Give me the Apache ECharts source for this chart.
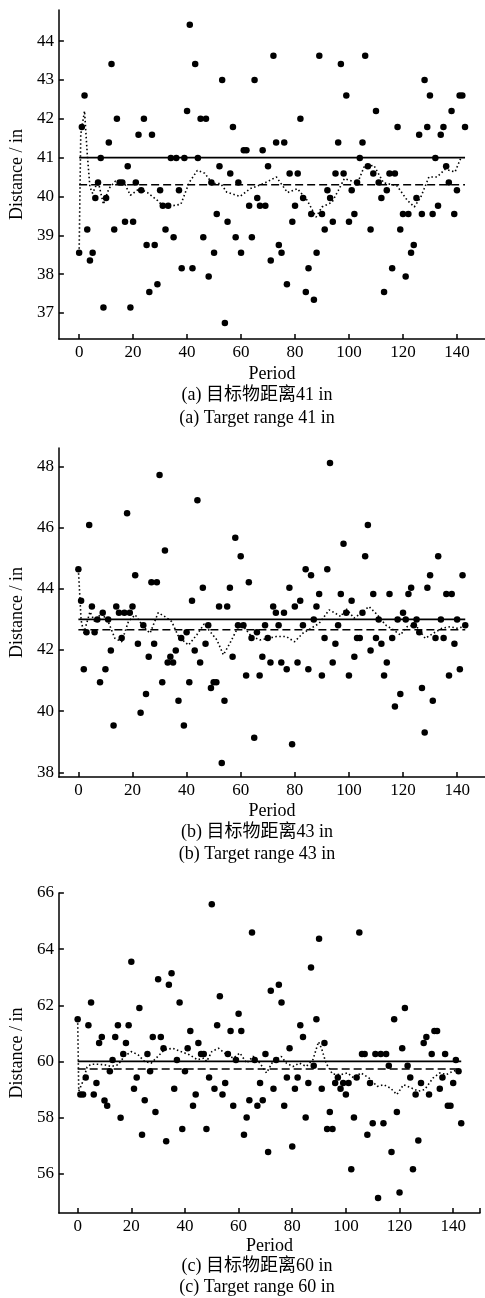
<!DOCTYPE html>
<html>
<head>
<meta charset="utf-8">
<script src="https://cdn.jsdelivr.net/npm/echarts@6/dist/echarts.min.js"></script>
<style>
  html, body { margin: 0; padding: 0; background: #fff; }
  #chart { width: 485px; height: 1298px; }
</style>
</head>
<body>
<div id="chart"></div>
<script>
// x tick labels (period) and y tick labels per panel
const xTicks = [0, 20, 40, 60, 80, 100, 120, 140];
const yTicksA = [37, 38, 39, 40, 41, 42, 43, 44];
const yTicksB = [38, 40, 42, 44, 46, 48];
const yTicksC = [56, 58, 60, 62, 64, 66];

// measured distance per period 0..143
const distA = [38.55, 41.79, 42.6, 39.15, 38.35, 38.55, 39.96, 40.36, 40.99, 37.14,
  39.96, 41.39, 43.41, 39.15, 42.0, 40.36, 40.36, 39.35, 40.78, 37.14,
  39.35, 40.36, 41.59, 40.16, 42.0, 38.75, 37.54, 41.59, 38.75, 37.74,
  40.16, 39.76, 39.15, 39.76, 40.99, 38.95, 40.99, 40.16, 38.15, 40.99,
  42.2, 44.42, 38.15, 43.41, 40.99, 42.0, 38.95, 42.0, 37.94, 40.36,
  38.55, 39.55, 40.78, 43.0, 36.74, 39.35, 40.59, 41.79, 38.95, 40.36,
  38.55, 41.19, 41.19, 39.76, 38.95, 43.0, 39.96, 39.76, 41.19, 39.76,
  40.78, 38.35, 43.62, 41.39, 38.75, 38.55, 41.39, 37.74, 40.59, 39.35,
  39.76, 40.59, 42.0, 39.96, 37.54, 38.15, 39.55, 37.34, 38.55, 43.62,
  39.55, 39.15, 40.16, 39.96, 39.35, 40.59, 41.39, 43.41, 40.59, 42.6,
  39.35, 40.16, 39.55, 40.36, 40.99, 41.39, 43.62, 40.78, 39.15, 40.59,
  42.2, 40.36, 39.96, 37.54, 40.16, 40.59, 38.15, 40.59, 41.79, 39.15,
  39.55, 37.94, 39.55, 38.55, 38.75, 39.96, 41.59, 39.55, 43.0, 41.79,
  42.6, 39.55, 40.99, 39.76, 41.59, 41.79, 40.78, 40.36, 42.2, 39.55,
  40.16, 42.6, 42.6, 41.79];

const distB = [44.64, 43.61, 41.37, 42.58, 46.08, 43.42, 42.58, 43.0, 40.95, 43.22,
  41.37, 43.0, 41.98, 39.53, 43.42, 43.22, 42.39, 43.22, 46.47, 43.22,
  43.42, 44.44, 42.2, 39.95, 42.81, 40.56, 41.78, 44.21, 42.2, 44.21,
  47.72, 40.95, 45.25, 41.59, 41.78, 41.59, 41.98, 40.34, 42.39, 39.53,
  42.58, 40.95, 43.61, 41.98, 46.89, 41.59, 44.03, 42.2, 42.81, 40.76,
  40.95, 40.95, 43.42, 38.31, 40.34, 43.42, 44.03, 41.78, 45.67, 42.81,
  45.06, 42.81, 41.17, 44.21, 42.39, 39.13, 42.58, 41.17, 41.78, 42.81,
  42.39, 41.59, 43.42, 43.22, 42.81, 41.59, 43.22, 41.37, 44.03, 38.92,
  43.42, 41.59, 43.61, 42.81, 44.64, 41.37, 44.44, 43.0, 43.42, 43.83,
  41.17, 42.39, 44.64, 48.11, 41.59, 42.2, 42.81, 43.83, 45.47, 43.22,
  41.17, 43.61, 41.78, 42.39, 42.39, 43.22, 45.06, 46.08, 41.98, 43.83,
  42.39, 43.0, 42.2, 41.17, 41.59, 43.83, 42.39, 40.15, 43.0, 40.56,
  43.22, 43.0, 43.83, 44.03, 42.81, 43.0, 42.58, 40.76, 39.3, 44.03,
  44.44, 40.34, 42.39, 45.06, 43.0, 42.39, 43.83, 41.17, 43.83, 42.2,
  43.0, 41.37, 44.44, 42.81];

const distC = [61.5, 58.82, 58.82, 59.43, 61.29, 62.1, 58.82, 59.23, 60.66, 60.87,
  58.61, 58.42, 59.65, 60.05, 60.87, 61.29, 57.99, 60.26, 60.66, 61.29,
  63.55, 59.03, 59.43, 61.9, 57.39, 58.62, 60.26, 59.65, 60.87, 58.2,
  62.93, 60.87, 60.47, 57.16, 62.73, 63.14, 59.03, 60.05, 62.1, 57.59,
  59.65, 60.47, 61.08, 58.42, 58.82, 60.66, 60.26, 60.26, 57.59, 59.43,
  65.6, 59.03, 61.29, 62.32, 58.82, 59.23, 60.26, 61.08, 58.42, 60.05,
  61.7, 61.08, 57.39, 58.0, 58.62, 64.59, 60.05, 58.42, 59.23, 58.62,
  60.26, 56.77, 62.52, 59.03, 60.05, 62.73, 62.1, 58.42, 59.43, 60.47,
  56.97, 59.03, 59.43, 61.29, 60.87, 58.0, 59.23, 63.35, 59.85, 61.5,
  64.37, 59.03, 60.66, 57.59, 58.2, 57.59, 59.23, 59.43, 59.03, 59.23,
  58.82, 59.23, 56.16, 58.0, 59.43, 64.59, 60.26, 60.26, 57.39, 59.23,
  57.8, 60.26, 55.13, 60.26, 57.8, 60.26, 59.85, 56.77, 61.5, 58.2,
  55.33, 60.47, 61.9, 59.85, 59.43, 56.16, 58.82, 57.18, 59.23, 60.66,
  60.87, 58.82, 60.26, 61.08, 61.08, 59.03, 59.43, 60.26, 58.42, 58.42,
  59.23, 60.05, 59.65, 57.8];

const periods = distA.map((v, i) => i);

// target range (solid) and mean of measurements (dashed)
const targetA = 41, meanA = 40.3;
const targetB = 43, meanB = 42.66;
const targetC = 60, meanC = 59.73;

// running estimate (dotted), [period, distance]
const trendA = [[0, 38.55], [0.6, 41.6], [2, 42.2], [3, 41.1], [4, 40.24], [5, 40.08], [7, 40.4],
  [9, 39.8], [11, 40.2], [13.5, 40.4], [16.7, 40.35], [19, 40.03], [22.3, 40.2], [25.3, 40.1],
  [29, 39.9], [31.5, 39.72], [34.6, 39.76], [37.7, 39.8], [40.7, 40.35], [43.8, 40.67],
  [46.5, 40.6], [49.4, 40.33], [52.5, 40.33], [54.7, 40.11], [59.6, 40.0], [63.4, 40.2],
  [68.3, 40.33], [73.1, 40.5], [77.2, 40.1], [80.9, 40.2], [84.5, 39.9], [87.8, 39.47],
  [90, 39.73], [93.7, 39.85], [96, 40.15], [98.3, 40.46], [103.2, 40.35], [105.6, 40.76],
  [109.2, 40.8], [112.8, 40.35], [117.7, 40.28], [121.6, 39.9], [124.2, 39.73], [126.6, 39.98],
  [129.6, 40.5], [132.6, 40.5], [135.6, 40.7], [139.3, 40.63], [141.5, 41.0]];

const trendB = [[0, 44.64], [1, 42.98], [2, 42.55], [4.3, 43.25], [6, 42.93], [8.5, 43.2], [11, 42.93],
  [13.5, 42.38], [16, 42.27], [18.5, 42.93], [21, 43.15], [24, 42.76], [26.5, 42.55], [29.5, 43.22],
  [32, 43.09], [34.5, 42.93], [37, 42.44], [40.7, 42.16], [43.8, 42.5], [46.5, 42.85], [48.7, 42.6],
  [51.2, 42.33], [53.6, 41.84], [56, 42.22], [59.1, 42.76], [61.5, 42.71], [64, 42.44], [67.1, 42.33],
  [70.2, 42.38], [73.2, 42.44], [76.8, 42.44], [79.9, 42.27], [83, 42.55], [86, 42.71], [89, 42.87],
  [92.7, 43.31], [95, 43.2], [97, 43.09], [98.9, 43.36], [101.9, 43.04], [104.4, 43.2], [107.4, 43.42],
  [110.5, 43.15], [113.5, 42.82], [116.6, 42.65], [119, 42.49], [121.5, 42.76], [124.6, 42.82],
  [126.4, 42.6], [128.2, 42.38], [131.3, 42.55], [134.4, 42.71], [137.4, 42.76], [139.9, 42.71],
  [142.4, 42.76]];

const trendC = [[0, 61.5], [0.4, 58.94], [2, 59.3], [3.5, 59.8], [5, 59.9], [7.5, 59.9], [10, 59.88],
  [12.5, 59.82], [15, 59.88], [17.4, 60.18], [20, 60.35], [22.5, 60.24], [24.9, 60.0], [27.4, 59.94],
  [29.9, 60.18], [32.3, 60.41], [35.4, 60.47], [38.5, 60.35], [41.6, 60.24], [44.7, 60.06],
  [47.1, 60.12], [48.1, 60.0], [50, 60.35], [52.5, 60.47], [55.6, 60.24], [58, 60.12], [60.5, 60.3],
  [63, 59.94], [65.4, 60.18], [67.9, 59.94], [70.4, 59.59], [72.8, 60.0], [75.9, 60.18], [77.8, 59.94],
  [80.3, 59.82], [82.7, 59.94], [85.2, 59.82], [87.7, 60.06], [89.8, 60.7], [90.9, 60.47],
  [92.6, 59.94], [95, 59.55], [98.1, 59.53], [100.6, 59.59], [103, 59.41], [105.6, 59.59],
  [108.6, 59.41], [111.7, 59.11], [114.1, 59.17], [116.6, 59.05], [119, 58.82], [121.5, 59.17],
  [124.5, 59.05], [127, 58.94], [129.4, 59.0], [132.5, 59.41], [135, 59.59], [137.4, 59.53],
  [139.9, 59.65], [141.7, 59.7]];

const captionsA = ['(a) 目标物距离41 in', '(a) Target range 41 in'];
const captionsB = ['(b) 目标物距离43 in', '(b) Target range 43 in'];
const captionsC = ['(c) 目标物距离60 in', '(c) Target range 60 in'];

const SERIF = "'Liberation Serif', 'Times New Roman', serif";
const black = '#000';

const panels = [
  { top: 10, height: 329, width: 429, xMin: -7.5, xMax: 150.4, xEnd: null, nameGap: 26,
    capGap: [56, 79], yMin: 36.33, yMax: 44.8, yTicks: yTicksA, dist: distA,
    target: targetA, mean: meanA, trend: trendA, caps: captionsA },
  { top: 448, height: 329, width: 429, xMin: -7.2, xMax: 150.3, xEnd: null, nameGap: 25,
    capGap: [55, 77], yMin: 37.85, yMax: 48.6, yTicks: yTicksB, dist: distB,
    target: targetB, mean: meanB, trend: trendB, caps: captionsB },
  { top: 893, height: 320, width: 424, xMin: -7, xMax: 150, xEnd: 150, nameGap: 24,
    capGap: [53, 74], yMin: 54.6, yMax: 66, yTicks: yTicksC, dist: distC,
    target: targetC, mean: meanC, trend: trendC, caps: captionsC }
];

const grid = [], xAxis = [], yAxis = [], series = [], graphic = [];

panels.forEach((p, i) => {
  grid.push({ left: 56, top: p.top, width: p.width, height: p.height });

  const tickVals = p.xEnd ? xTicks.concat([p.xEnd]) : xTicks;
  xAxis.push({
    type: 'value', gridIndex: i, min: p.xMin, max: p.xMax,
    name: 'Period', nameLocation: 'middle', nameGap: p.nameGap,
    nameTextStyle: { fontFamily: SERIF, fontSize: 18, color: black },
    axisLine: { show: true, onZero: false, lineStyle: { color: black, width: 1.5 } },
    axisTick: { show: true, inside: true, length: 5, customValues: tickVals,
      lineStyle: { color: black, width: 1.5 } },
    axisLabel: { customValues: xTicks, fontFamily: SERIF, fontSize: 17, color: black, margin: 5 },
    splitLine: { show: false }
  });
  yAxis.push({
    type: 'value', gridIndex: i, min: p.yMin, max: p.yMax,
    name: 'Distance / in', nameLocation: 'middle', nameGap: 30, nameRotate: 90,
    nameTextStyle: { fontFamily: SERIF, fontSize: 18, color: black },
    axisLine: { show: true, onZero: false, lineStyle: { color: black, width: 1.5 } },
    axisTick: { show: true, inside: true, length: 5, customValues: p.yTicks,
      lineStyle: { color: black, width: 1.5 } },
    axisLabel: { customValues: p.yTicks, fontFamily: SERIF, fontSize: 17, color: black, margin: 5 },
    splitLine: { show: false }
  });

  series.push({
    type: 'scatter', xAxisIndex: i, yAxisIndex: i, symbolSize: 6.5,
    itemStyle: { color: black, opacity: 1 },
    data: p.dist.map((v, k) => [periods[k], v]), z: 3
  });
  series.push({
    type: 'line', xAxisIndex: i, yAxisIndex: i, symbol: 'none',
    lineStyle: { color: black, width: 1.6 },
    data: [[0, p.target], [periods[periods.length - 1], p.target]]
  });
  series.push({
    type: 'line', xAxisIndex: i, yAxisIndex: i, symbol: 'none',
    lineStyle: { color: black, width: 1.6, type: [8, 4] },
    data: [[0, p.mean], [periods[periods.length - 1], p.mean]]
  });
  series.push({
    type: 'line', xAxisIndex: i, yAxisIndex: i, symbol: 'none',
    lineStyle: { color: black, width: 1.6, type: [1.5, 2.5] },
    data: p.trend
  });

  const base = p.top + p.height;
  p.caps.forEach((txt, k) => {
    graphic.push({
      type: 'text', x: 257, y: base + p.capGap[k],
      style: { text: txt, font: "18px 'Liberation Serif', 'Noto Sans CJK SC'",
        fill: black, textAlign: 'center', textVerticalAlign: 'middle' }
    });
  });
});

const chart = echarts.init(document.getElementById('chart'));
chart.setOption({
  animation: false,
  backgroundColor: '#fff',
  grid, xAxis, yAxis, series, graphic
});
</script>
</body>
</html>
